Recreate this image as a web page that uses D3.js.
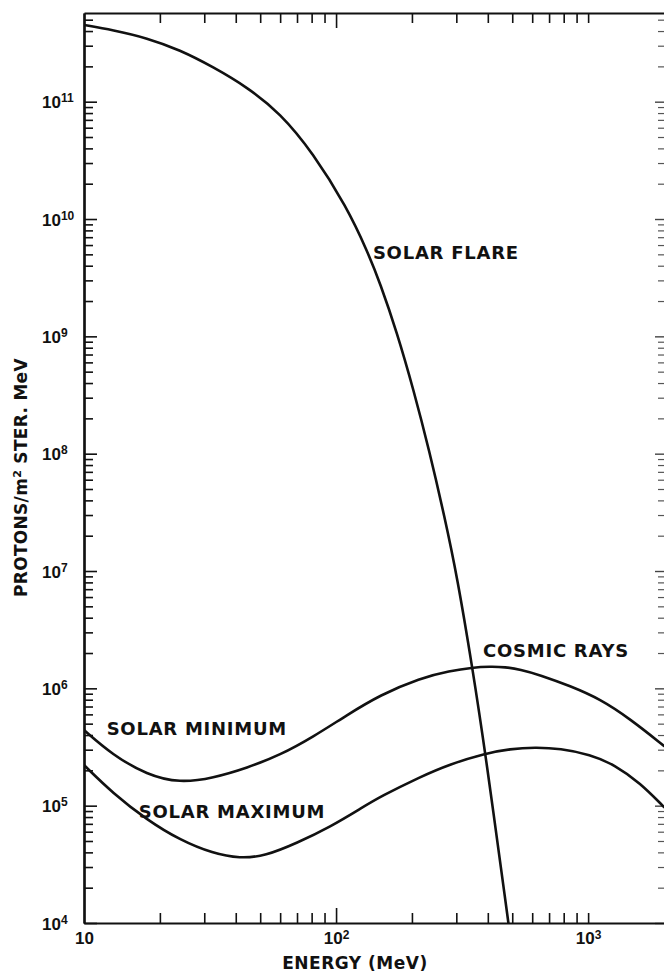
<!DOCTYPE html>
<html>
<head>
<meta charset="utf-8">
<script src="https://cdn.jsdelivr.net/npm/d3@7"></script>
<style>
  html, body { margin: 0; padding: 0; background: #fff; }
  svg { display: block; }
</style>
</head>
<body>
<svg id="chart" width="664" height="974"></svg>
<script>
// Differential proton flux (protons / m² ster MeV) against kinetic energy (MeV)
const flareEnergy = [10, 13.0, 17.8, 24.0, 32.5, 44.4, 60.0, 81.0, 110.1, 133.0, 149.5, 174.7, 203.0,
                     234.1, 269.5, 302.4, 347.1, 391.4, 482.8];
const flareFlux   = [4.51e11, 4.08e11, 3.49e11, 2.76e11, 1.98e11, 1.33e11, 8.01e10, 3.66e10, 1.27e10,
                     5.34e9, 2.85e9, 1.07e9, 3.49e8, 1.07e8, 2.89e7, 8.89e6, 1.52e6, 2.81e5, 1.0e4];

const solarMinEnergy = [10, 13.0, 17.8, 24.0, 32.5, 44.4, 60.0, 81.0, 110.6, 149.5, 215.4, 283.4, 346.4,
                        408.4, 468.4, 537.3, 644.9, 848.2, 1116, 1468, 2000];
const solarMinFlux   = [4.41e5, 2.70e5, 1.83e5, 1.56e5, 1.72e5, 2.10e5, 2.70e5, 3.85e5, 5.93e5, 8.77e5,
                        1.225e6, 1.406e6, 1.505e6, 1.535e6, 1.52e6, 1.448e6, 1.30e6, 1.047e6, 8.11e5,
                        5.48e5, 3.23e5];

const solarMaxEnergy = [10, 13.0, 17.8, 24.0, 32.5, 41.6, 52.3, 70.0, 94.7, 128.0, 149.5, 215.4, 283.4,
                        390.1, 490.3, 616.3, 774.3, 1018, 1280, 1608, 2000];
const solarMaxFlux   = [2.22e5, 1.28e5, 7.55e4, 5.10e4, 3.91e4, 3.55e4, 3.72e4, 4.81e4, 6.58e4, 9.74e4,
                        1.19e5, 1.76e5, 2.26e5, 2.79e5, 3.05e5, 3.14e5, 3.07e5, 2.73e5, 2.22e5, 1.56e5,
                        9.74e4];

// Axis ticks and labels
const yDecades   = [1e4, 1e5, 1e6, 1e7, 1e8, 1e9, 1e10, 1e11];
const yExponents = ["4", "5", "6", "7", "8", "9", "10", "11"];
const xLabelValues = [10, 100, 1000];
const xExponents   = ["", "2", "3"];
const xMinorTicks  = [20, 30, 40, 50, 60, 70, 80, 90, 200, 300, 400, 500, 600, 700, 800, 900, 1000];
const xMajorTicks  = [100];
const topMinorTicks = [20, 30, 40, 50, 60, 70, 80, 90, 200, 300, 400, 500, 600, 700, 800, 900, 1000];
const topMajorTicks = [100];

const curveLabels = [
  { text: "SOLAR FLARE",   energy: 140,  flux: 4.56e9 },
  { text: "COSMIC RAYS",   energy: 383,  flux: 1.85e6 },
  { text: "SOLAR MINIMUM", energy: 12.3, flux: 4.0e5 },
  { text: "SOLAR MAXIMUM", energy: 16.5, flux: 7.85e4 }
];

const INK = "#111";
const LABEL_FONT = "'DejaVu Sans', sans-serif";
const TICK_FONT = "'Liberation Sans', Arial, sans-serif";

const svg = d3.select("#chart");

const x = d3.scaleLog().domain([10, 2000]).range([84, 664]);
const y = d3.scaleLog().domain([1e4, 5.7e11]).range([923, 13]);

// minor ticks 2..9 inside each decade
const yMinorTicks = [];
yDecades.forEach(d => { for (let k = 2; k <= 9; k++) if (d * k <= 5.7e11) yMinorTicks.push(d * k); });

svg.append("defs").append("clipPath").attr("id", "plot-clip")
  .append("rect")
  .attr("x", x.range()[0]).attr("y", y.range()[1])
  .attr("width", x.range()[1] - x.range()[0])
  .attr("height", y.range()[0] - y.range()[1]);

function styleAxis(g, width) {
  g.selectAll("path.domain").attr("stroke", INK).attr("stroke-width", width);
  g.selectAll(".tick line").attr("stroke", INK).attr("stroke-width", 1.6);
}

// Left axis: minor ticks, then decade ticks with labels
svg.append("g")
  .attr("transform", `translate(${x.range()[0]},0)`)
  .call(d3.axisLeft(y).tickValues(yMinorTicks).tickSizeInner(-9).tickSizeOuter(0).tickFormat(""))
  .call(g => styleAxis(g, 2.2));

const leftMajor = svg.append("g")
  .attr("transform", `translate(${x.range()[0]},0)`)
  .call(d3.axisLeft(y).tickValues(yDecades).tickSizeInner(-13).tickSizeOuter(0))
  .call(g => styleAxis(g, 2.2));
leftMajor.selectAll(".tick text")
  .attr("x", 42 - x.range()[0])
  .attr("dy", 6)
  .attr("text-anchor", "start")
  .attr("fill", INK)
  .attr("font-family", TICK_FONT)
  .attr("font-weight", "bold")
  .attr("font-size", 17)
  .each(function (d, i) {
    const t = d3.select(this).text(null);
    t.append("tspan").text("10");
    t.append("tspan").attr("dy", -6).attr("font-size", 12).text(yExponents[i]);
  });

// Right axis (ticks only, faint)
svg.append("g")
  .attr("transform", `translate(${x.range()[1] + 1},0)`)
  .call(d3.axisRight(y).tickValues(yMinorTicks).tickSizeInner(-7).tickSizeOuter(0).tickFormat(""))
  .call(g => { g.select("path.domain").remove(); g.selectAll(".tick line").attr("stroke", "#555").attr("stroke-width", 1.2); });
svg.append("g")
  .attr("transform", `translate(${x.range()[1] + 1},0)`)
  .call(d3.axisRight(y).tickValues(yDecades).tickSizeInner(-10).tickSizeOuter(0).tickFormat(""))
  .call(g => { g.select("path.domain").remove(); g.selectAll(".tick line").attr("stroke", "#444").attr("stroke-width", 1.4); });

// Bottom axis
svg.append("g")
  .attr("transform", `translate(0,${y.range()[0]})`)
  .call(d3.axisBottom(x).tickValues(xMinorTicks).tickSizeInner(-10).tickSizeOuter(0).tickFormat(""))
  .call(g => styleAxis(g, 2.2));
svg.append("g")
  .attr("transform", `translate(0,${y.range()[0]})`)
  .call(d3.axisBottom(x).tickValues(xMajorTicks).tickSizeInner(-15).tickSizeOuter(0).tickFormat(""))
  .call(g => { g.select("path.domain").remove(); styleAxis(g, 2.2); });

const bottomLabels = svg.append("g")
  .attr("transform", `translate(0,${y.range()[0]})`)
  .call(d3.axisBottom(x).tickValues(xLabelValues).tickSize(0))
  .call(g => g.select("path.domain").remove());
bottomLabels.selectAll(".tick text")
  .attr("y", 21)
  .attr("dy", 0)
  .attr("text-anchor", "middle")
  .attr("fill", INK)
  .attr("font-family", TICK_FONT)
  .attr("font-weight", "bold")
  .attr("font-size", 17)
  .each(function (d, i) {
    const t = d3.select(this).text(null);
    t.append("tspan").text("10");
    if (xExponents[i]) t.append("tspan").attr("dy", -5).attr("font-size", 12).text(xExponents[i]);
  });

// Top axis
svg.append("g")
  .attr("transform", `translate(0,${y.range()[1]})`)
  .call(d3.axisTop(x).tickValues(topMinorTicks).tickSizeInner(-10).tickSizeOuter(0).tickFormat(""))
  .call(g => styleAxis(g, 2.2));
svg.append("g")
  .attr("transform", `translate(0,${y.range()[1]})`)
  .call(d3.axisTop(x).tickValues(topMajorTicks).tickSizeInner(-15).tickSizeOuter(0).tickFormat(""))
  .call(g => { g.select("path.domain").remove(); styleAxis(g, 2.2); });

// Spectra
const line = d3.line()
  .x(d => x(d[0]))
  .y(d => y(d[1]))
  .curve(d3.curveBasis);

const series = [
  d3.zip(flareEnergy, flareFlux),
  d3.zip(solarMinEnergy, solarMinFlux),
  d3.zip(solarMaxEnergy, solarMaxFlux)
];

svg.append("g").attr("clip-path", "url(#plot-clip)")
  .selectAll("path")
  .data(series)
  .join("path")
  .attr("d", line)
  .attr("fill", "none")
  .attr("stroke", INK)
  .attr("stroke-width", 2.6)
  .attr("stroke-linejoin", "round")
  .attr("stroke-linecap", "round");

// Curve labels
svg.append("g")
  .selectAll("text")
  .data(curveLabels)
  .join("text")
  .attr("x", d => x(d.energy))
  .attr("y", d => y(d.flux))
  .attr("fill", INK)
  .attr("font-family", LABEL_FONT)
  .attr("font-weight", "bold")
  .attr("font-size", 18)
  .attr("letter-spacing", 0.75)
  .text(d => d.text);

// Axis titles
svg.append("text")
  .attr("x", 355)
  .attr("y", 969)
  .attr("text-anchor", "middle")
  .attr("fill", INK)
  .attr("font-family", LABEL_FONT)
  .attr("font-weight", "bold")
  .attr("font-size", 17)
  .attr("letter-spacing", 0.5)
  .text("ENERGY (MeV)");

const yTitle = svg.append("text")
  .attr("transform", "translate(26.5,597) rotate(-90)")
  .attr("text-anchor", "start")
  .attr("fill", INK)
  .attr("font-family", LABEL_FONT)
  .attr("font-weight", "bold")
  .attr("font-size", 17)
  .attr("letter-spacing", 0.3);
yTitle.append("tspan").text("PROTONS/m");
yTitle.append("tspan").attr("dy", -6).attr("font-size", 11).text("2");
yTitle.append("tspan").attr("dy", 6).text(" STER. MeV");
</script>
</body>
</html>
